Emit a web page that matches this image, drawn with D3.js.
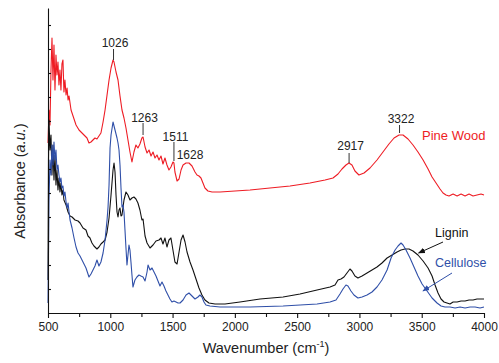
<!DOCTYPE html>
<html>
<head>
<meta charset="utf-8">
<script src="https://cdn.jsdelivr.net/npm/d3@7"></script>
<style>
  body { margin: 0; background: #fff; }
  text { font-family: Arial, "Liberation Sans", Helvetica, sans-serif; }
</style>
</head>
<body>
<svg id="chart" width="499" height="363"></svg>
<script>
// spectra: wavenumber (cm-1) and absorbance (a.u.)
const pineWn = [500,508,516,524,532,540,548,556,564,572,580,588,596,604,612,620,628,636,645,653,661,669,685,701,725,749,773,797,813,829,845,861,877,893,909,925,942,958,974,990,1006,1022,1030,1046,1062,1078,1094,1110,1126,1142,1158,1174,1190,1206,1222,1238,1254,1263,1279,1295,1311,1327,1343,1359,1375,1391,1407,1423,1439,1455,1471,1487,1503,1511,1519,1536,1552,1568,1584,1608,1632,1656,1680,1696,1712,1728,1744,1760,1784,1817,1881,2001,2122,2282,2443,2603,2724,2788,2828,2860,2892,2916,2940,2964,2996,3037,3085,3141,3189,3237,3278,3318,3350,3390,3430,3470,3511,3551,3583,3615,3647,3671,3695,3719,3752,3784,3816,3848,3880,3912,3944,3976,4000];
const pineAbs = [1.70,2.03,1.88,2.43,2.75,2.33,2.68,2.23,2.58,2.38,2.51,2.28,2.43,2.23,2.49,2.53,2.21,2.33,2.18,2.25,2.13,2.17,2.03,1.97,1.88,1.83,1.80,1.77,1.75,1.70,1.71,1.73,1.75,1.74,1.77,1.80,1.91,2.03,2.18,2.33,2.45,2.53,2.51,2.41,2.33,2.17,2.03,1.95,1.85,1.73,1.61,1.51,1.61,1.68,1.65,1.69,1.75,1.76,1.66,1.60,1.63,1.57,1.61,1.55,1.58,1.53,1.57,1.49,1.55,1.48,1.43,1.46,1.51,1.50,1.41,1.32,1.34,1.43,1.48,1.50,1.50,1.47,1.41,1.38,1.37,1.35,1.30,1.25,1.22,1.21,1.21,1.22,1.23,1.25,1.27,1.30,1.33,1.35,1.39,1.44,1.48,1.50,1.48,1.42,1.38,1.40,1.45,1.53,1.61,1.69,1.75,1.78,1.78,1.74,1.68,1.61,1.53,1.44,1.36,1.30,1.24,1.20,1.18,1.17,1.19,1.17,1.19,1.17,1.19,1.17,1.18,1.19,1.18];

const ligninWn = [500,504,508,516,524,532,540,548,556,564,572,580,588,596,604,612,620,628,645,661,677,693,717,741,757,781,805,821,837,853,869,893,909,925,942,958,974,990,1006,1022,1030,1038,1046,1054,1062,1070,1078,1086,1094,1110,1126,1142,1158,1174,1190,1206,1222,1238,1254,1263,1279,1295,1319,1343,1367,1391,1407,1423,1439,1455,1471,1487,1503,1519,1536,1552,1568,1584,1600,1616,1640,1664,1688,1712,1736,1760,1792,1841,1921,2041,2202,2387,2523,2660,2764,2804,2828,2852,2876,2900,2924,2940,2964,2988,3021,3061,3101,3141,3181,3222,3262,3302,3334,3366,3398,3430,3470,3511,3551,3583,3607,3631,3655,3679,3703,3727,3752,3784,3816,3848,3880,3912,3944,3976,4000];
const ligninAbs = [0.33,1.53,1.93,1.63,1.78,1.38,1.68,1.33,1.58,1.28,1.43,1.23,1.35,1.21,1.30,1.18,1.23,1.13,1.08,1.01,0.97,0.96,0.93,0.92,0.90,0.85,0.83,0.77,0.75,0.70,0.67,0.64,0.66,0.69,0.71,0.73,0.81,0.95,1.18,1.43,1.50,1.41,1.18,1.01,0.96,1.03,1.05,0.97,0.98,1.13,1.21,1.18,1.13,1.15,1.16,1.14,1.10,1.03,0.93,0.94,0.77,0.70,0.65,0.68,0.72,0.73,0.75,0.69,0.75,0.66,0.73,0.75,0.63,0.51,0.49,0.61,0.73,0.78,0.71,0.61,0.51,0.43,0.34,0.25,0.18,0.13,0.10,0.09,0.09,0.11,0.14,0.16,0.19,0.23,0.26,0.28,0.33,0.34,0.36,0.40,0.44,0.42,0.37,0.35,0.37,0.40,0.43,0.46,0.50,0.55,0.58,0.61,0.63,0.64,0.64,0.62,0.58,0.52,0.45,0.37,0.28,0.20,0.14,0.11,0.10,0.09,0.11,0.11,0.12,0.12,0.13,0.13,0.14,0.14,0.14];

const celluloseWn = [500,508,516,524,532,540,548,556,564,572,580,588,596,604,612,620,628,636,645,653,661,669,677,693,709,725,741,757,781,805,829,845,861,877,893,909,925,942,958,974,982,990,998,1006,1022,1030,1038,1046,1054,1062,1070,1078,1086,1094,1102,1110,1118,1126,1134,1142,1150,1158,1166,1174,1182,1198,1214,1230,1246,1263,1279,1295,1303,1319,1335,1351,1367,1383,1399,1415,1431,1447,1463,1479,1495,1511,1528,1544,1560,1584,1608,1632,1656,1680,1704,1720,1736,1752,1768,1800,1881,2122,2387,2660,2764,2812,2844,2868,2892,2908,2932,2956,2988,3021,3061,3101,3141,3181,3222,3254,3286,3310,3334,3350,3374,3406,3438,3470,3503,3543,3583,3623,3655,3687,3727,3768,3808,3848,3888,3928,3968,4000];
const celluloseAbs = [0.10,1.13,1.53,1.38,1.68,1.48,1.71,1.53,1.63,1.43,1.48,1.38,1.31,1.35,1.25,1.27,1.17,1.21,1.11,1.05,1.10,1.01,0.93,0.85,0.75,0.66,0.60,0.57,0.51,0.45,0.36,0.39,0.43,0.47,0.53,0.47,0.51,0.60,0.73,0.93,1.06,1.28,1.65,1.78,1.91,1.87,1.83,1.79,1.75,1.70,1.63,1.48,1.25,1.06,1.08,1.01,0.83,0.65,0.48,0.58,0.68,0.63,0.51,0.38,0.26,0.33,0.36,0.38,0.37,0.36,0.32,0.41,0.48,0.43,0.45,0.41,0.37,0.32,0.27,0.31,0.27,0.22,0.18,0.14,0.11,0.12,0.11,0.10,0.10,0.13,0.18,0.20,0.17,0.14,0.16,0.18,0.16,0.11,0.08,0.07,0.06,0.06,0.07,0.09,0.11,0.13,0.19,0.24,0.28,0.27,0.22,0.18,0.15,0.16,0.18,0.21,0.26,0.33,0.43,0.55,0.63,0.67,0.70,0.68,0.63,0.55,0.46,0.37,0.29,0.22,0.15,0.10,0.07,0.06,0.06,0.05,0.06,0.05,0.06,0.06,0.05,0.06];

// peak labels on the pine wood trace
const peaks = [1026, 1263, 1511, 1628, 2917, 3322];
const xTicks = [500, 1000, 1500, 2000, 2500, 3000, 3500, 4000];

const svg = d3.select('#chart');
const width = 499, height = 363;
const margin = { top: 8, right: 15, bottom: 50, left: 48 };

const x = d3.scaleLinear()
  .domain([500, 4000])
  .range([margin.left, width - margin.right]);

const y = d3.scaleLinear()
  .domain([0, 3.05])
  .range([height - margin.bottom, margin.top]);

const line = d3.line()
  .x(d => x(d[0]))
  .y(d => y(d[1]));

const series = [
  { name: 'Pine Wood', wn: pineWn, abs: pineAbs, color: '#ee1c24' },
  { name: 'Lignin', wn: ligninWn, abs: ligninAbs, color: '#111111' },
  { name: 'Cellulose', wn: celluloseWn, abs: celluloseAbs, color: '#2f4fa8' }
];

// curves
svg.append('g')
  .selectAll('path')
  .data(series)
  .enter().append('path')
  .attr('d', s => line(s.wn.map((w, i) => [w, s.abs[i]])))
  .attr('fill', 'none')
  .attr('stroke', s => s.color)
  .attr('stroke-width', 1.1)
  .attr('stroke-linejoin', 'round');

// x axis: labelled major ticks + minor ticks in between
const xAxis = svg.append('g')
  .attr('transform', `translate(0,${height - margin.bottom})`);

xAxis.append('g')
  .call(d3.axisBottom(x).tickValues(d3.range(750, 4000, 500)).tickSize(4).tickFormat(''))
  .call(g => g.select('.domain').remove());

xAxis.append('g')
  .call(d3.axisBottom(x).tickValues(xTicks).tickSize(5).tickSizeOuter(0).tickPadding(4).tickFormat(d3.format('d')))
  .call(g => g.selectAll('text').attr('font-size', 12).attr('fill', '#222').attr('font-family', 'Arial, "Liberation Sans", sans-serif'));

xAxis.selectAll('line, path').attr('stroke', '#111').attr('stroke-width', 1.1);

// y axis: plain line with small inward ticks, no labels
const yAxis = svg.append('g')
  .attr('transform', `translate(${margin.left},0)`)
  .call(d3.axisRight(y).tickValues(d3.range(0.24, 3.05, 0.24)).tickSize(3).tickSizeOuter(0).tickFormat(''));
yAxis.selectAll('line, path').attr('stroke', '#111').attr('stroke-width', 1.1);

// axis titles
svg.append('text')
  .attr('x', (margin.left + width - margin.right) / 2)
  .attr('y', 353)
  .attr('text-anchor', 'middle')
  .attr('font-size', 14.5)
  .attr('fill', '#222')
  .call(t => {
    t.append('tspan').text('Wavenumber (cm');
    t.append('tspan').attr('font-size', 9).attr('dy', -6).text('-1');
    t.append('tspan').attr('dy', 6).text(')');
  });

svg.append('text')
  .attr('transform', 'translate(25,181) rotate(-90)')
  .attr('text-anchor', 'middle')
  .attr('font-size', 14.5)
  .attr('fill', '#222')
  .call(t => {
    t.append('tspan').text('Absorbance (');
    t.append('tspan').attr('font-style', 'italic').text('a.u.');
    t.append('tspan').text(')');
  });

// peak annotations
const pineAt = w => {
  const i = d3.bisectLeft(pineWn, w);
  return pineAbs[Math.min(i, pineAbs.length - 1)];
};
const peakLayout = { 1026: [15, 11], 1263: [15, 12], 1511: [22, 19], 1628: [4, 0], 2917: [15, 10], 3322: [12, 8] };

const ann = svg.append('g');
peaks.forEach(p => {
  const px = x(p), py = y(pineAt(p));
  const [gap, len] = peakLayout[p];
  if (len > 0) {
    ann.append('line')
      .attr('x1', px).attr('x2', px)
      .attr('y1', py - 2).attr('y2', py - 2 - len)
      .attr('stroke', '#333').attr('stroke-width', 1);
  }
  ann.append('text')
    .attr('x', px + 1.5)
    .attr('y', py - gap)
    .attr('text-anchor', 'middle')
    .attr('font-size', 12)
    .attr('fill', '#222')
    .text(p);
});

// series labels
svg.append('text')
  .attr('x', 422).attr('y', 140)
  .attr('font-size', 13).attr('fill', '#ee1c24')
  .text('Pine Wood');

svg.append('defs').selectAll('marker')
  .data(series.slice(1))
  .enter().append('marker')
  .attr('id', s => 'arrow-' + s.name)
  .attr('viewBox', '0 0 10 10')
  .attr('refX', 9).attr('refY', 5)
  .attr('markerWidth', 7).attr('markerHeight', 7)
  .attr('orient', 'auto')
  .append('path')
  .attr('d', 'M0,1 L10,5 L0,9 Z')
  .attr('fill', s => s.color);

svg.append('text')
  .attr('x', 435).attr('y', 237)
  .attr('font-size', 12.5).attr('fill', '#111')
  .text('Lignin');
svg.append('line')
  .attr('x1', 443).attr('y1', 242)
  .attr('x2', x(3475)).attr('y2', y(0.60))
  .attr('stroke', '#111').attr('stroke-width', 1)
  .attr('marker-end', 'url(#arrow-Lignin)');

svg.append('text')
  .attr('x', 435).attr('y', 267)
  .attr('font-size', 12.5).attr('fill', '#2f4fa8')
  .text('Cellulose');
svg.append('line')
  .attr('x1', 452).attr('y1', 273)
  .attr('x2', x(3510)).attr('y2', y(0.22))
  .attr('stroke', '#2f4fa8').attr('stroke-width', 1)
  .attr('marker-end', 'url(#arrow-Cellulose)');
</script>
</body>
</html>
